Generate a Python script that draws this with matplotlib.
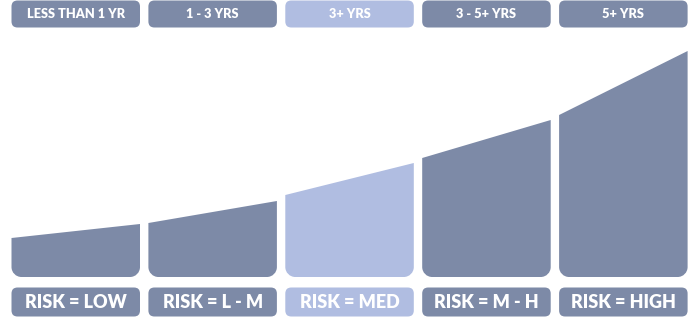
import numpy as np
import matplotlib
matplotlib.use('Agg')
import matplotlib.pyplot as plt
from matplotlib.path import Path
from matplotlib.patches import PathPatch, FancyBboxPatch

# horizon / risk categories
horizons = ['LESS THAN 1 YR', '1 - 3 YRS', '3+ YRS', '3 - 5+ YRS', '5+ YRS']
risks = ['RISK = LOW', 'RISK = L - M', 'RISK = MED', 'RISK = M - H', 'RISK = HIGH']
# height of the risk curve at the left / right edge of each column
curve_left = [39, 54, 82, 119, 162]
curve_right = [53, 76, 114, 157, 226]
highlight = 2  # the "3+ YRS" column

DARK = '#7d8aa7'
LIGHT = '#b0bde1'

W, H = 693, 318
X0, STEP, COL_W = 11.5, 136.9, 128.5
BASE = 41           # bottom of the area shapes
RAD = 10            # corner radius of area shapes
TOP_Y, TOP_H = 290.5, 27
BOT_Y, BOT_H = 1.5, 29


def area_path(x0, x1, h0, h1, base, r):
    k = 0.5523 * r
    verts = [
        (x0, base + h0),
        (x1, base + h1),
        (x1, base + r),
        (x1, base + r - k), (x1 - r + k, base), (x1 - r, base),
        (x0 + r, base),
        (x0 + r - k, base), (x0, base + r - k), (x0, base + r),
        (x0, base + h0),
    ]
    codes = [Path.MOVETO, Path.LINETO, Path.LINETO,
             Path.CURVE4, Path.CURVE4, Path.CURVE4,
             Path.LINETO,
             Path.CURVE4, Path.CURVE4, Path.CURVE4,
             Path.CLOSEPOLY]
    return Path(verts, codes)


fig = plt.figure(figsize=(W / 100, H / 100), dpi=100)
ax = fig.add_axes([0, 0, 1, 1])
ax.set_xlim(0, W)
ax.set_ylim(0, H)
ax.axis('off')

for i in range(len(horizons)):
    color = LIGHT if i == highlight else DARK
    x0 = X0 + i * STEP
    x1 = x0 + COL_W

    ax.add_patch(PathPatch(area_path(x0, x1, curve_left[i], curve_right[i], BASE, RAD),
                           facecolor=color, edgecolor='none'))

    ax.add_patch(FancyBboxPatch((x0, TOP_Y), COL_W, TOP_H,
                                boxstyle='round,pad=0,rounding_size=6',
                                facecolor=color, edgecolor='none'))
    ax.text(x0 + COL_W / 2, TOP_Y + TOP_H / 2, horizons[i], color='white',
            ha='center', va='center', fontsize=9.2, fontweight='heavy', family='Lato')

    ax.add_patch(FancyBboxPatch((x0, BOT_Y), COL_W, BOT_H,
                                boxstyle='round,pad=0,rounding_size=6',
                                facecolor=color, edgecolor='none'))
    ax.text(x0 + COL_W / 2, BOT_Y + BOT_H / 2, risks[i], color='white',
            ha='center', va='center', fontsize=13, fontweight='heavy', family='Lato')

fig.savefig('out.png', dpi=100)
